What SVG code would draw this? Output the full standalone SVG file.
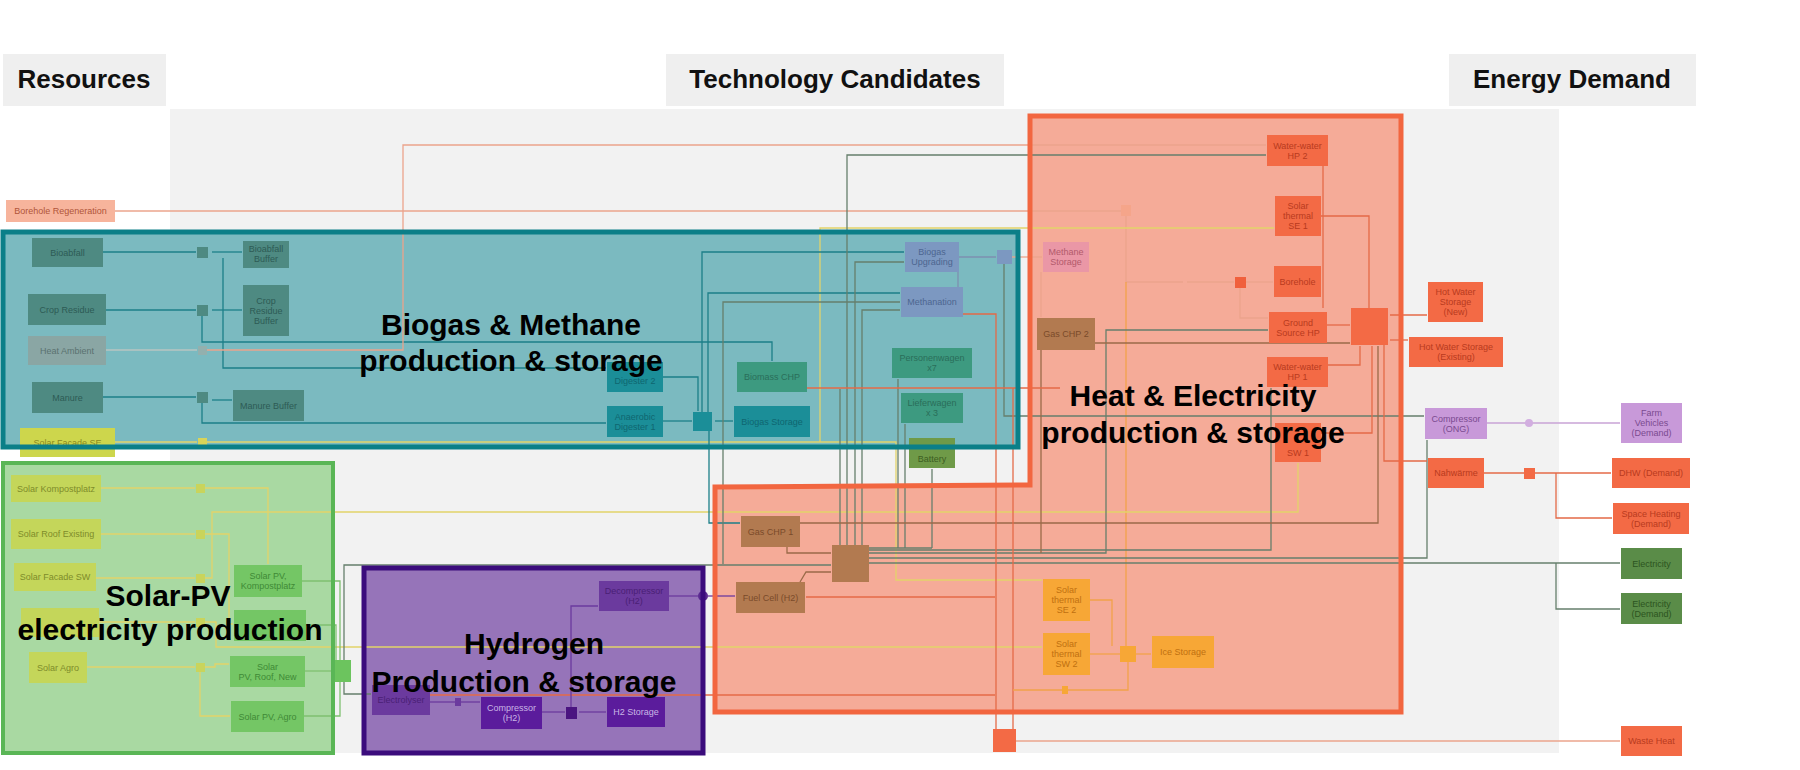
<svg xmlns="http://www.w3.org/2000/svg" width="1800" height="770" viewBox="0 0 1800 770">
<defs>
<style>
.hdr{fill:#efefef}
.hdrt{font-family:"Liberation Sans",Arial,sans-serif;font-weight:bold;font-size:26px;fill:#111;text-anchor:middle}
.big{font-family:"Liberation Sans",Arial,sans-serif;font-weight:bold;font-size:30px;fill:#000;text-anchor:middle}
.nt{font-family:"Liberation Sans",Arial,sans-serif;font-size:9px;text-anchor:middle}
path,polyline{fill:none;stroke-width:1.3}
.s{stroke:#eba48c}
.a{stroke:#b9c4c2}
.t{stroke:#1c7f88}
.g{stroke:#667f6c}
.y{stroke:#e2d36a}
.o{stroke:#f1a24a}
.r{stroke:#e46a47}
.p{stroke:#6b3a9e}
.b{stroke:#9a6a48}
.l{stroke:#7d8fb0}
.v{stroke:#c9a3d6}
.gr{stroke:#7fc070}
</style>
<marker id="ms" viewBox="0 0 6 6" refX="6" refY="3" markerWidth="6" markerHeight="6" markerUnits="userSpaceOnUse" orient="auto-start-reverse"><path d="M0,0L6,3L0,6z" fill="#e49a80" stroke="none"/></marker>
<marker id="mt" viewBox="0 0 6 6" refX="6" refY="3" markerWidth="6" markerHeight="6" markerUnits="userSpaceOnUse" orient="auto-start-reverse"><path d="M0,0L6,3L0,6z" fill="#1c7f88" stroke="none"/></marker>
<marker id="mg" viewBox="0 0 6 6" refX="6" refY="3" markerWidth="6" markerHeight="6" markerUnits="userSpaceOnUse" orient="auto-start-reverse"><path d="M0,0L6,3L0,6z" fill="#5f7a66" stroke="none"/></marker>
<marker id="my" viewBox="0 0 6 6" refX="6" refY="3" markerWidth="6" markerHeight="6" markerUnits="userSpaceOnUse" orient="auto-start-reverse"><path d="M0,0L6,3L0,6z" fill="#d2c24e" stroke="none"/></marker>
<marker id="mo" viewBox="0 0 6 6" refX="6" refY="3" markerWidth="6" markerHeight="6" markerUnits="userSpaceOnUse" orient="auto-start-reverse"><path d="M0,0L6,3L0,6z" fill="#ee9a3a" stroke="none"/></marker>
<marker id="mr" viewBox="0 0 6 6" refX="6" refY="3" markerWidth="6" markerHeight="6" markerUnits="userSpaceOnUse" orient="auto-start-reverse"><path d="M0,0L6,3L0,6z" fill="#e0603d" stroke="none"/></marker>
<marker id="mp" viewBox="0 0 6 6" refX="6" refY="3" markerWidth="6" markerHeight="6" markerUnits="userSpaceOnUse" orient="auto-start-reverse"><path d="M0,0L6,3L0,6z" fill="#6b3a9e" stroke="none"/></marker>
<marker id="mb" viewBox="0 0 6 6" refX="6" refY="3" markerWidth="6" markerHeight="6" markerUnits="userSpaceOnUse" orient="auto-start-reverse"><path d="M0,0L6,3L0,6z" fill="#9a6a48" stroke="none"/></marker>
<marker id="ml" viewBox="0 0 6 6" refX="6" refY="3" markerWidth="6" markerHeight="6" markerUnits="userSpaceOnUse" orient="auto-start-reverse"><path d="M0,0L6,3L0,6z" fill="#6b80a8" stroke="none"/></marker>
<marker id="mv" viewBox="0 0 6 6" refX="6" refY="3" markerWidth="6" markerHeight="6" markerUnits="userSpaceOnUse" orient="auto-start-reverse"><path d="M0,0L6,3L0,6z" fill="#b98ac8" stroke="none"/></marker>
</defs>
<rect width="1800" height="770" fill="#ffffff"/>

<g id="headers">
<rect class="hdr" x="3" y="54" width="163" height="52"/>
<text class="hdrt" x="84" y="88">Resources</text>
<rect class="hdr" x="666" y="54" width="338" height="52"/>
<text class="hdrt" x="835" y="88">Technology Candidates</text>
<rect class="hdr" x="1449" y="54" width="247" height="52"/>
<text class="hdrt" x="1572" y="88">Energy Demand</text>
</g>

<rect id="panel" x="170" y="109" width="1389" height="644" fill="#f2f2f2"/>

<g id="overlay-fills">
<rect x="3" y="232" width="1015" height="215" fill="#7bbac0"/>
<rect x="3" y="463" width="330" height="290" fill="#a9d9a2"/>
<rect x="364" y="568" width="339" height="185" fill="#9674b9"/>
<polygon points="1030,116 1401,116 1401,712 715,712 715,487 1030,485" fill="#f5ab98"/>
</g>

<g id="connectors">
<!-- resources -->
<path class="s" d="M115,211 L170,211 L1121,211" marker-mid="url(#ms)"/>
<path class="s" d="M1126,216 V282 H1183" marker-end="url(#ms)"/>
<path class="s" d="M1187,282 H1234" marker-end="url(#ms)"/>
<path class="s" d="M1246,282 H1273" marker-end="url(#ms)"/>
<path class="s" d="M1240,288 V318 H1268" marker-end="url(#ms)"/>
<path class="o" d="M1126,282 V646"/>
<path class="t" d="M103,252 L170,252 L196,252" marker-mid="url(#mt)" marker-end="url(#mt)"/>
<path class="t" d="M212,252 H242" marker-start="url(#mt)" marker-end="url(#mt)"/>
<path class="t" d="M223,258 V368 H606" marker-end="url(#mt)"/>
<path class="t" d="M106,310 L170,310 L196,310" marker-mid="url(#mt)" marker-end="url(#mt)"/>
<path class="t" d="M212,310 H242" marker-start="url(#mt)" marker-end="url(#mt)"/>
<path class="t" d="M202,316 V342 H772 V361" marker-end="url(#mt)"/>
<path class="a" d="M106,350 L170,350 L197,350" marker-mid="url(#mg)"/>
<path class="s" d="M207,350 H403 V145 H1266" marker-end="url(#ms)"/>
<path class="t" d="M103,397 L170,397 L196,397" marker-mid="url(#mt)" marker-end="url(#mt)"/>
<path class="t" d="M212,400 H232" marker-start="url(#mt)" marker-end="url(#mt)"/>
<path class="t" d="M202,403 V423 H606" marker-end="url(#mt)"/>
<path class="y" d="M115,442 L170,442 L197,442" marker-mid="url(#my)"/>
<path class="y" d="M207,442 H896 V580 H1042" marker-end="url(#my)"/>
<path class="y" d="M820,442 V228 H1274" marker-end="url(#my)"/>
<path class="y" d="M101,488 L170,488 L195,488" marker-mid="url(#my)" marker-end="url(#my)"/>
<path class="y" d="M205,488 H268 V564" marker-end="url(#my)"/>
<path class="y" d="M101,534 L170,534 L195,534" marker-mid="url(#my)" marker-end="url(#my)"/>
<path class="y" d="M205,534 H229 V624 H233" marker-end="url(#my)"/>
<path class="y" d="M96,578 L170,578 L195,578" marker-mid="url(#my)" marker-end="url(#my)"/>
<path class="y" d="M205,578 H212 V512 H1298 V463" marker-end="url(#my)"/>
<path class="y" d="M99,622 L170,622 L195,622" marker-mid="url(#my)" marker-end="url(#my)"/>
<path class="y" d="M205,622 H216 V647 H1042" marker-end="url(#my)"/>
<path class="y" d="M87,667 L170,667 L195,667" marker-mid="url(#my)" marker-end="url(#my)"/>
<path class="y" d="M205,667 H215 V664 H229" marker-end="url(#my)"/>
<path class="y" d="M200,672 V716 H230" marker-end="url(#my)"/>
<!-- PV to junction -->
<path class="gr" d="M302,581 H340 V660"/>
<path class="gr" d="M306,625 H336 V660"/>
<path class="gr" d="M305,671 H332"/>
<path class="gr" d="M304,716 H340 V682"/>
<path class="g" d="M344,660 V565 H831" marker-end="url(#mb)"/>
<path class="g" d="M344,682 V694 H371" marker-end="url(#mp)"/>
<!-- biogas -->
<path class="t" d="M663,377 H698 V411"/>
<path class="t" d="M663,421 H692" marker-end="url(#mt)"/>
<path class="t" d="M715,421 H733" marker-start="url(#mt)" marker-end="url(#mt)"/>
<path class="t" d="M702,412 V252 H904" marker-end="url(#mt)"/>
<path class="t" d="M708,412 V293 H900" marker-end="url(#mt)"/>
<path class="t" d="M709,431 V523 H740" marker-end="url(#mb)"/>
<path class="g" d="M723,564 V302 H900" marker-end="url(#mt)"/>
<path class="l" d="M958,272 V287"/>
<path class="l" d="M959,257 H996"/>
<path class="s" d="M1012,257 H1042" marker-end="url(#ms)"/>
<path class="g" d="M1004,264 V416 H1424" marker-end="url(#mv)"/>
<path class="s" d="M1041,272 V317" marker-end="url(#ms)"/>
<!-- electricity bus -->
<path class="g" d="M840,389 V545"/>
<path class="g" d="M847,545 V155 H1266" marker-end="url(#mg)"/>
<path class="g" d="M855,545 V262 H904" marker-end="url(#mg)"/>
<path class="g" d="M862,545 V310 H900" marker-end="url(#mg)"/>
<path class="g" d="M869,548 H932"/>
<path class="g" d="M898,548 V379" marker-end="url(#mg)"/>
<path class="g" d="M905,548 V424" marker-end="url(#mg)"/>
<path class="g" d="M932,548 V469" marker-end="url(#mg)"/>
<path class="g" d="M869,550 H1271 V388" marker-end="url(#mg)"/>
<path class="g" d="M869,553 H1106 V330 H1268" marker-end="url(#mg)"/>
<path class="b" d="M1041,350 V553"/>
<path class="g" d="M869,558 H1427 V440" marker-end="url(#mg)"/>
<path class="g" d="M869,563 H1620" marker-end="url(#mg)"/>
<path class="g" d="M1556,563 V609 H1620" marker-end="url(#mg)"/>
<!-- CHP / fuel cell -->
<path class="b" d="M800,523 H1378 V346"/>
<path class="b" d="M787,547 V553 H831" marker-end="url(#mb)"/>
<path class="b" d="M800,582 L806,572 H831" marker-end="url(#mb)"/>
<path class="r" d="M806,597 H995"/>
<path class="b" d="M1095,343 H1350" marker-end="url(#mb)"/>
<!-- hydrogen -->
<path class="r" d="M430,695 H995"/>
<path class="p" d="M430,702 H455"/>
<path class="p" d="M461,702 H480" marker-end="url(#mp)"/>
<path class="p" d="M542,712 H565"/>
<path class="p" d="M579,712 H606" marker-start="url(#mp)" marker-end="url(#mp)"/>
<path class="p" d="M571,707 V606 H598" marker-end="url(#mp)"/>
<path class="p" d="M669,596 H698"/>
<path class="p" d="M708,596 H735" marker-end="url(#mp)"/>
<!-- heat -->
<path class="r" d="M807,388 H1060" marker-end="url(#mr)"/>
<path class="r" d="M1013,388 V729"/>
<path class="r" d="M963,314 H996 V729"/>
<path class="r" d="M1323,166 V308"/>
<path class="r" d="M1321,216 H1369 V308"/>
<path class="r" d="M1327,325 H1350" marker-end="url(#mr)"/>
<path class="r" d="M1328,365 H1360 V346"/>
<path class="r" d="M1321,433 H1372 V346"/>
<path class="r" d="M1390,315 H1427" marker-start="url(#mr)" marker-end="url(#mr)"/>
<path class="r" d="M1390,340 H1408" marker-start="url(#mr)" marker-end="url(#mr)"/>
<path class="r" d="M1384,345 V461 H1427" marker-end="url(#mr)"/>
<path class="r" d="M1484,473 H1524"/>
<path class="r" d="M1535,473 H1611" marker-end="url(#mr)"/>
<path class="r" d="M1556,473 V518 H1612" marker-end="url(#mr)"/>
<path class="v" d="M1487,423 H1620" marker-end="url(#mv)"/>
<path class="s" d="M1016,741 H1620" marker-end="url(#ms)"/>
<!-- solar thermal / ice -->
<path class="o" d="M1090,600 H1112 V646"/>
<path class="o" d="M1090,654 H1120"/>
<path class="o" d="M1136,654 H1151" marker-end="url(#mo)"/>
<path class="o" d="M1013,690 H1062" marker-end="url(#mo)"/>
<path class="o" d="M1066,690 H1128 V662"/>
</g>

<g id="nodes">
<g id="n-borehole-regen"><rect x="6" y="200" width="109" height="22" fill="#f7b49c"/><text class="nt" x="60.5" y="214" fill="#b0553a">Borehole Regeneration</text></g>
<g id="n-bioabfall"><rect x="32" y="238" width="71" height="29" fill="#4e8a82"/><text class="nt" x="67.5" y="255.5" fill="#2d5b55">Bioabfall</text></g>
<g id="n-crop"><rect x="28" y="294" width="78" height="31" fill="#4e8a82"/><text class="nt" x="67" y="312.5" fill="#2d5b55">Crop Residue</text></g>
<g id="n-heatamb"><rect x="28" y="336" width="78" height="29" fill="#8aa6a4"/><text class="nt" x="67" y="353.5" fill="#5a7270">Heat Ambient</text></g>
<g id="n-manure"><rect x="32" y="382" width="71" height="31" fill="#4e8a82"/><text class="nt" x="67.5" y="400.5" fill="#2d5b55">Manure</text></g>
<g id="n-solar-se"><rect x="20" y="428" width="95" height="29" fill="#cdd64c"/><text class="nt" x="67.5" y="445.5" fill="#8a8a20">Solar Facade SE</text></g>
<g id="n-solar-komp"><rect x="11" y="475" width="90" height="27" fill="#c4d65a"/><text class="nt" x="56" y="491.5" fill="#7e8c2a">Solar Kompostplatz</text></g>
<g id="n-solar-roof"><rect x="11" y="519" width="90" height="30" fill="#c4d65a"/><text class="nt" x="56" y="537" fill="#7e8c2a">Solar Roof Existing</text></g>
<g id="n-solar-sw"><rect x="14" y="563" width="82" height="28" fill="#c4d65a"/><text class="nt" x="55" y="580" fill="#7e8c2a">Solar Facade SW</text></g>
<g id="n-solar-hidden"><rect x="21" y="608" width="78" height="29" fill="#c4d65a"/></g>
<g id="n-solar-agro"><rect x="29" y="652" width="58" height="31" fill="#c4d65a"/><text class="nt" x="58" y="670.5" fill="#7e8c2a">Solar Agro</text></g>

<g id="j-left">
<rect x="197" y="247" width="11" height="11" fill="#4e8a82"/>
<rect x="197" y="305" width="11" height="11" fill="#4e8a82"/>
<rect x="198" y="346" width="9" height="9" fill="#93b0ae"/>
<rect x="197" y="392" width="11" height="11" fill="#4e8a82"/>
<rect x="198" y="438" width="9" height="9" fill="#d8d45a"/>
<rect x="196" y="484" width="9" height="9" fill="#c9d45c"/>
<rect x="196" y="530" width="9" height="9" fill="#c9d45c"/>
<rect x="196" y="574" width="9" height="9" fill="#c9d45c"/>
<rect x="196" y="618" width="9" height="9" fill="#c9d45c"/>
<rect x="196" y="663" width="9" height="9" fill="#c9d45c"/>
</g>

<g id="n-bio-buffer"><rect x="243" y="241" width="46" height="27" fill="#4e8a82"/><text class="nt" x="266" y="251.5" fill="#2d5b55"><tspan x="266">Bioabfall</tspan><tspan x="266" dy="10">Buffer</tspan></text></g>
<g id="n-crop-buffer"><rect x="243" y="285" width="46" height="51" fill="#4e8a82"/><text class="nt" x="266" y="303.5" fill="#2d5b55"><tspan x="266">Crop</tspan><tspan x="266" dy="10">Residue</tspan><tspan x="266" dy="10">Buffer</tspan></text></g>
<g id="n-manure-buffer"><rect x="233" y="390" width="71" height="31" fill="#4e8a82"/><text class="nt" x="268.5" y="408.5" fill="#2d5b55">Manure Buffer</text></g>

<g id="n-digester2"><rect x="607" y="362" width="56" height="30" fill="#1b8e98"/><text class="nt" x="635" y="384" fill="#0f6670">Digester 2</text></g>
<g id="n-digester1"><rect x="607" y="406" width="56" height="31" fill="#1b8e98"/><text class="nt" x="635" y="419.5" fill="#0f6670"><tspan x="635">Anaerobic</tspan><tspan x="635" dy="10">Digester 1</tspan></text></g>
<g id="j-biogas"><rect x="693" y="412" width="19" height="19" fill="#1b8e98"/></g>
<g id="n-biogas-storage"><rect x="734" y="406" width="76" height="31" fill="#1b8e98"/><text class="nt" x="772" y="424.5" fill="#0f6670">Biogas Storage</text></g>
<g id="n-biomass-chp"><rect x="737" y="362" width="70" height="30" fill="#3d9a80"/><text class="nt" x="772" y="380" fill="#2a6e5a">Biomass CHP</text></g>
<g id="n-upgrading"><rect x="905" y="242" width="54" height="30" fill="#7c98c1"/><text class="nt" x="932" y="255" fill="#4d6690"><tspan x="932">Biogas</tspan><tspan x="932" dy="10">Upgrading</tspan></text></g>
<g id="n-methanation"><rect x="901" y="287" width="62" height="30" fill="#7c98c1"/><text class="nt" x="932" y="305" fill="#4d6690">Methanation</text></g>
<g id="j-methane"><rect x="997" y="250" width="15" height="14" fill="#7c98c1"/></g>
<g id="n-pkw"><rect x="892" y="348" width="80" height="30" fill="#3d9a80"/><text class="nt" x="932" y="361" fill="#2a6e5a"><tspan x="932">Personenwagen</tspan><tspan x="932" dy="10">x7</tspan></text></g>
<g id="n-lkw"><rect x="901" y="393" width="62" height="30" fill="#3d9a80"/><text class="nt" x="932" y="406" fill="#2a6e5a"><tspan x="932">Lieferwagen</tspan><tspan x="932" dy="10">x 3</tspan></text></g>
<g id="n-battery"><rect x="909" y="438" width="46" height="30" fill="#6f9a48"/><text class="nt" x="932" y="462" fill="#3d5e22">Battery</text></g>
<g id="n-methane-storage"><rect x="1043" y="242" width="46" height="30" fill="#ea97a6"/><text class="nt" x="1066" y="255" fill="#b25a6b"><tspan x="1066">Methane</tspan><tspan x="1066" dy="10">Storage</tspan></text></g>
<g id="n-gaschp2"><rect x="1037" y="318" width="58" height="32" fill="#b27a50"/><text class="nt" x="1066" y="337" fill="#7a4a2a">Gas CHP 2</text></g>

<g id="n-hp2"><rect x="1267" y="135" width="61" height="31" fill="#f36a45"/><text class="nt" x="1297.5" y="148.5" fill="#b83a1e"><tspan x="1297.5">Water-water</tspan><tspan x="1297.5" dy="10">HP 2</tspan></text></g>
<g id="n-se1"><rect x="1275" y="196" width="46" height="40" fill="#f36a45"/><text class="nt" x="1298" y="209" fill="#b83a1e"><tspan x="1298">Solar</tspan><tspan x="1298" dy="10">thermal</tspan><tspan x="1298" dy="10">SE 1</tspan></text></g>
<g id="j-regen"><rect x="1121" y="205" width="10" height="11" fill="#f5a58a"/></g>
<g id="j-borehole"><rect x="1235" y="277" width="11" height="11" fill="#f0603c"/></g>
<g id="n-borehole"><rect x="1274" y="266" width="47" height="31" fill="#f36a45"/><text class="nt" x="1297.5" y="284.5" fill="#b83a1e">Borehole</text></g>
<g id="n-gshp"><rect x="1269" y="312" width="58" height="31" fill="#f36a45"/><text class="nt" x="1298" y="325.5" fill="#b83a1e"><tspan x="1298">Ground</tspan><tspan x="1298" dy="10">Source HP</tspan></text></g>
<g id="j-heat"><rect x="1351" y="308" width="37" height="37" fill="#f36a45"/></g>
<g id="n-hp1"><rect x="1267" y="357" width="61" height="30" fill="#f36a45"/><text class="nt" x="1297.5" y="370" fill="#b83a1e"><tspan x="1297.5">Water-water</tspan><tspan x="1297.5" dy="10">HP 1</tspan></text></g>
<g id="n-sw1"><rect x="1275" y="423" width="46" height="39" fill="#f36a45"/><text class="nt" x="1298" y="455.5" fill="#b83a1e">SW 1</text></g>

<g id="n-hws-new"><rect x="1428" y="282" width="55" height="40" fill="#f36a45"/><text class="nt" x="1455.5" y="295" fill="#b83a1e"><tspan x="1455.5">Hot Water</tspan><tspan x="1455.5" dy="10">Storage</tspan><tspan x="1455.5" dy="10">(New)</tspan></text></g>
<g id="n-hws-ex"><rect x="1409" y="337" width="94" height="30" fill="#f36a45"/><text class="nt" x="1456" y="350" fill="#b83a1e"><tspan x="1456">Hot Water Storage</tspan><tspan x="1456" dy="10">(Existing)</tspan></text></g>
<g id="n-comp-ong"><rect x="1425" y="408" width="62" height="31" fill="#c899d9"/><text class="nt" x="1456" y="421.5" fill="#7a4a90"><tspan x="1456">Compressor</tspan><tspan x="1456" dy="10">(ONG)</tspan></text></g>
<g id="n-nahwaerme"><rect x="1428" y="458" width="56" height="30" fill="#f36a45"/><text class="nt" x="1456" y="476" fill="#b83a1e">Nahwärme</text></g>
<g id="j-right"><circle cx="1529" cy="423" r="4" fill="#d2aee0"/><rect x="1524" y="468" width="11" height="11" fill="#f36a45"/></g>
<g id="n-farm"><rect x="1621" y="403" width="61" height="40" fill="#c899d9"/><text class="nt" x="1651.5" y="416" fill="#7a4a90"><tspan x="1651.5">Farm</tspan><tspan x="1651.5" dy="10">Vehicles</tspan><tspan x="1651.5" dy="10">(Demand)</tspan></text></g>
<g id="n-dhw"><rect x="1612" y="458" width="78" height="30" fill="#f36a45"/><text class="nt" x="1651" y="476" fill="#b83a1e">DHW (Demand)</text></g>
<g id="n-space"><rect x="1613" y="503" width="76" height="31" fill="#f36a45"/><text class="nt" x="1651" y="516.5" fill="#b83a1e"><tspan x="1651">Space Heating</tspan><tspan x="1651" dy="10">(Demand)</tspan></text></g>
<g id="n-elec"><rect x="1621" y="548" width="61" height="31" fill="#5a8c48"/><text class="nt" x="1651.5" y="566.5" fill="#2c5420">Electricity</text></g>
<g id="n-elec-demand"><rect x="1621" y="593" width="61" height="31" fill="#5a8c48"/><text class="nt" x="1651.5" y="606.5" fill="#2c5420"><tspan x="1651.5">Electricity</tspan><tspan x="1651.5" dy="10">(Demand)</tspan></text></g>
<g id="n-waste"><rect x="1621" y="726" width="61" height="30" fill="#f36a45"/><text class="nt" x="1651.5" y="744" fill="#b83a1e">Waste Heat</text></g>

<g id="n-gaschp1"><rect x="741" y="516" width="59" height="31" fill="#b27a50"/><text class="nt" x="770.5" y="534.5" fill="#7a4a2a">Gas CHP 1</text></g>
<g id="j-elec"><rect x="832" y="545" width="37" height="37" fill="#b27a50"/></g>
<g id="n-fuelcell"><rect x="736" y="582" width="69" height="31" fill="#b27a50"/><text class="nt" x="770.5" y="600.5" fill="#7a4a2a">Fuel Cell (H2)</text></g>
<g id="n-se2"><rect x="1043" y="579" width="47" height="42" fill="#f7a736"/><text class="nt" x="1066.5" y="593" fill="#c07010"><tspan x="1066.5">Solar</tspan><tspan x="1066.5" dy="10">thermal</tspan><tspan x="1066.5" dy="10">SE 2</tspan></text></g>
<g id="n-sw2"><rect x="1043" y="633" width="47" height="42" fill="#f7a736"/><text class="nt" x="1066.5" y="647" fill="#c07010"><tspan x="1066.5">Solar</tspan><tspan x="1066.5" dy="10">thermal</tspan><tspan x="1066.5" dy="10">SW 2</tspan></text></g>
<g id="j-ice"><rect x="1120" y="646" width="16" height="16" fill="#f7a736"/><rect x="1062" y="686" width="6" height="8" fill="#f7a736"/></g>
<g id="n-ice"><rect x="1152" y="636" width="62" height="32" fill="#f7a736"/><text class="nt" x="1183" y="655" fill="#c07010">Ice Storage</text></g>
<g id="j-waste"><rect x="993" y="729" width="23" height="23" fill="#f36a45"/></g>

<g id="n-pv-komp"><rect x="234" y="565" width="68" height="32" fill="#74c665"/><text class="nt" x="268" y="579" fill="#3f8a36"><tspan x="268">Solar PV,</tspan><tspan x="268" dy="10">Kompostplatz</tspan></text></g>
<g id="n-pv-hidden"><rect x="234" y="610" width="72" height="31" fill="#74c665"/></g>
<g id="n-pv-roof-new"><rect x="230" y="656" width="75" height="31" fill="#74c665"/><text class="nt" x="267.5" y="669.5" fill="#3f8a36"><tspan x="267.5">Solar</tspan><tspan x="267.5" dy="10">PV, Roof, New</tspan></text></g>
<g id="n-pv-agro"><rect x="231" y="701" width="73" height="31" fill="#74c665"/><text class="nt" x="267.5" y="719.5" fill="#3f8a36">Solar PV, Agro</text></g>
<g id="j-pv"><rect x="332" y="660" width="19" height="22" fill="#6cc45e"/></g>

<g id="n-decomp"><rect x="599" y="581" width="70" height="30" fill="#6b3a9e"/><text class="nt" x="634" y="594" fill="#4a2075"><tspan x="634">Decompressor</tspan><tspan x="634" dy="10">(H2)</tspan></text></g>
<g id="j-h2a"><circle cx="703" cy="596" r="5" fill="#5b2a90"/></g>
<g id="n-electrolyser"><rect x="372" y="685" width="58" height="30" fill="#6b3a9e"/><text class="nt" x="401" y="703" fill="#4a2075">Electrolyser</text></g>
<g id="j-h2b"><rect x="455" y="698" width="6" height="8" fill="#6b3a9e"/></g>
<g id="n-comp-h2"><rect x="481" y="697" width="61" height="32" fill="#5b1c9c"/><text class="nt" x="511.5" y="711" fill="#c9b5e6"><tspan x="511.5">Compressor</tspan><tspan x="511.5" dy="10">(H2)</tspan></text></g>
<g id="j-h2c"><rect x="566" y="707" width="11" height="12" fill="#4a1480"/></g>
<g id="n-h2-storage"><rect x="607" y="697" width="58" height="30" fill="#5b1c9c"/><text class="nt" x="636" y="715" fill="#c9b5e6">H2 Storage</text></g>
</g>

<g id="overlay-borders" fill="none">
<rect x="3" y="232" width="1015" height="215" stroke="#0b7f88" stroke-width="5"/>
<rect x="3" y="463" width="330" height="290" stroke="#5ab656" stroke-width="4"/>
<rect x="364" y="568" width="339" height="185" stroke="#3b0c7c" stroke-width="5"/>
<polygon points="1030,116 1401,116 1401,712 715,712 715,487 1030,485" stroke="#f26640" stroke-width="5"/>
</g>

<g id="overlay-labels">
<text class="big" x="511" y="335">Biogas &amp; Methane</text>
<text class="big" x="511" y="371">production &amp; storage</text>
<text class="big" x="168" y="606">Solar-PV</text>
<text class="big" x="170" y="640">electricity production</text>
<text class="big" x="534" y="654">Hydrogen</text>
<text class="big" x="524" y="692">Production &amp; storage</text>
<text class="big" x="1193" y="406">Heat &amp; Electricity</text>
<text class="big" x="1193" y="443">production &amp; storage</text>
</g>
</svg>
